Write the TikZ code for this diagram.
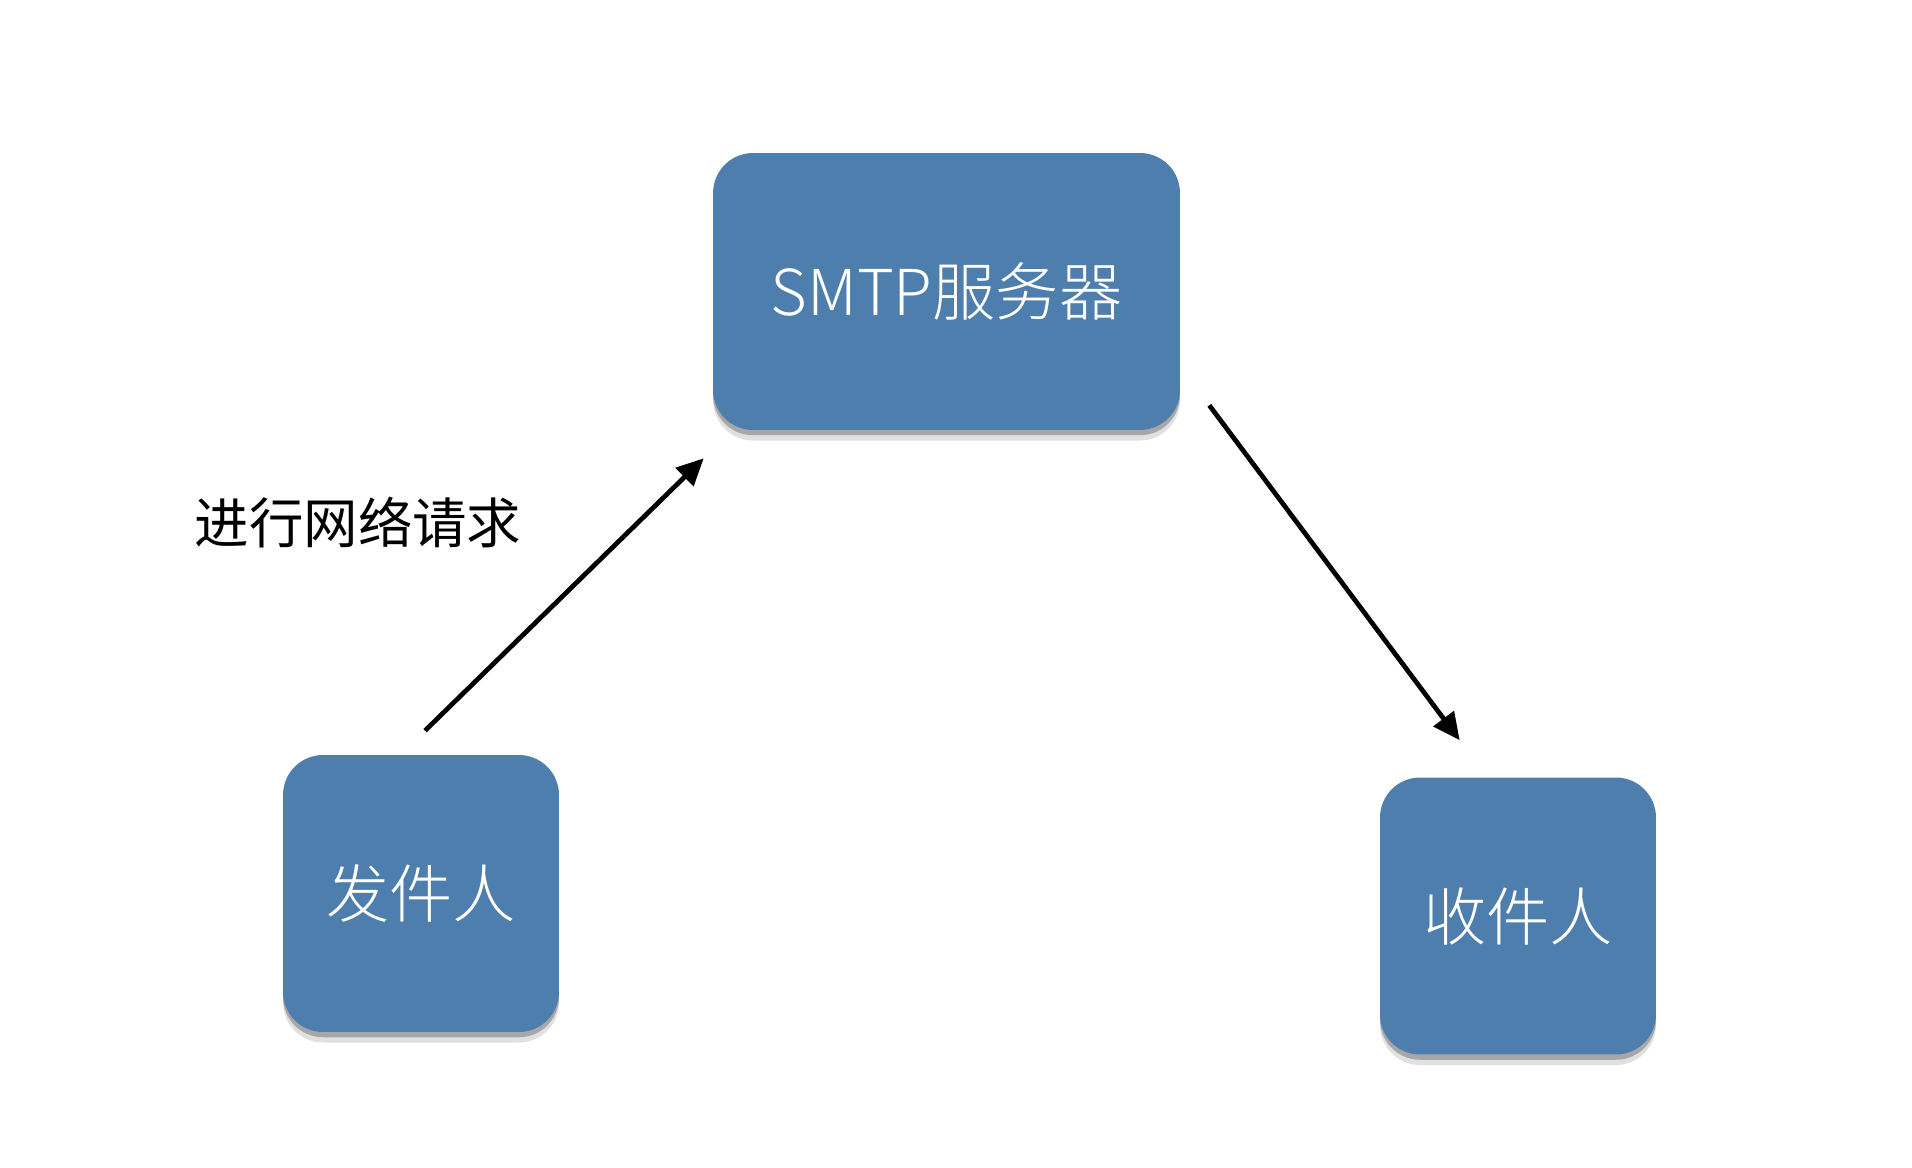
\documentclass[tikz,border=0pt]{standalone}
\usepackage{fontspec}
\usetikzlibrary{arrows.meta,shadows}
\newfontfamily\cjk{Noto Sans CJK SC}
\newfontfamily\cjklight{Noto Sans CJK SC Light}
\definecolor{boxblue}{HTML}{4E7EAD}

\begin{document}
\begin{tikzpicture}[
  x=0.02cm, y=-0.02cm,
  box/.style={rectangle,rounded corners=0.8cm,fill=boxblue,text=white,
    inner sep=0pt,font=\cjklight\fontsize{36}{40}\selectfont,
    drop shadow={shadow xshift=0pt,shadow yshift=-6pt,opacity=0.12,fill=black},
    drop shadow={shadow xshift=0pt,shadow yshift=-3pt,opacity=0.25,fill=black}},
  arr/.style={line width=2.7pt,-{Triangle[length=0.54cm,width=0.5cm]}},
  ]
  \useasboundingbox[fill=white] (0,0) rectangle (1912,1168);
  \node[box,minimum width=9.34cm,minimum height=5.54cm] (smtp) at (946.5,291.5) {SMTP服务器};
  \node[box,minimum width=5.52cm,minimum height=5.54cm] (sender) at (421,893.5) {发件人};
  \node[box,minimum width=5.52cm,minimum height=5.54cm] (receiver) at (1518,916) {收件人};
  \node[inner sep=0pt,font=\cjk\fontsize{31}{36}\selectfont] (req) at (358,523) {进行网络请求};
  \draw[arr] ([shift={(4,-24)}]sender.north) -- ([shift={(-9,28)}]smtp.south west);
  \draw[arr] ([shift={(29,-25)}]smtp.south east) -- ([shift={(80,-37)}]receiver.north west);
\end{tikzpicture}
\end{document}
